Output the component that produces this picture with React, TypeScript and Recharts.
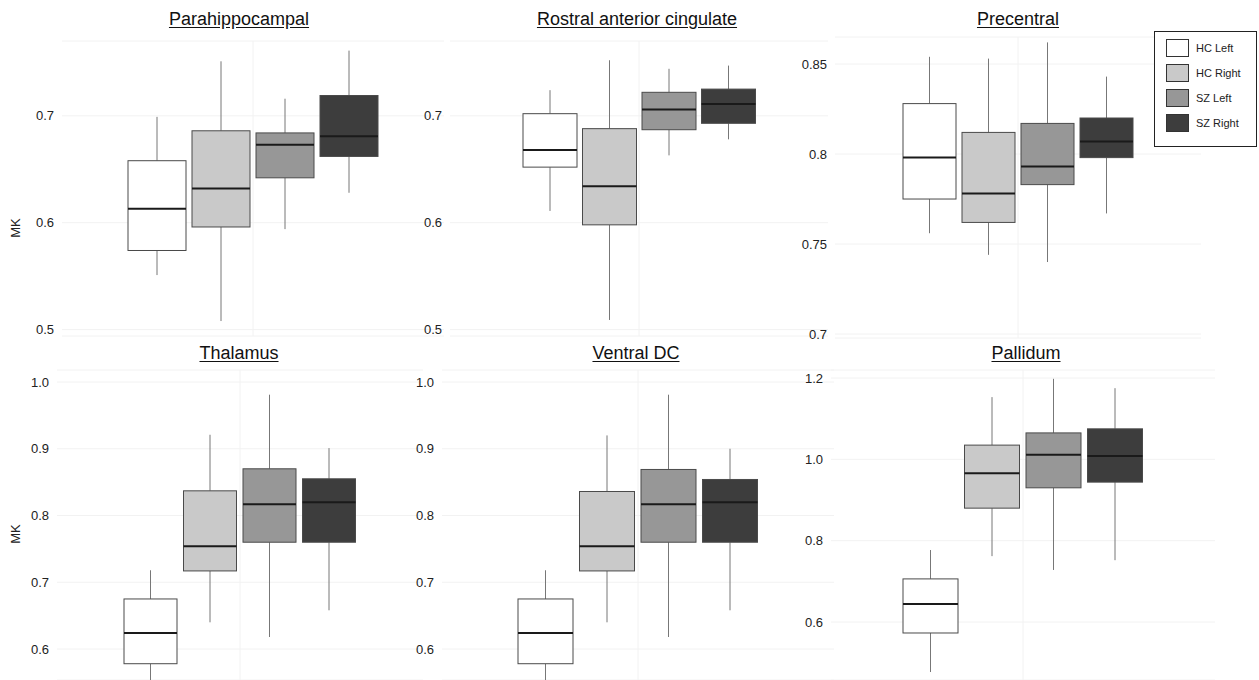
import { BarChart, Bar, XAxis, YAxis, CartesianGrid, ReferenceLine } from 'recharts';

const groups = ['HC Left', 'HC Right', 'SZ Left', 'SZ Right'];
const fills = ['#ffffff', '#c9c9c9', '#979797', '#3d3d3d'];

// per group: [lower whisker, Q1, median, Q3, upper whisker]
const parahippocampal = [
  [0.551, 0.574, 0.613, 0.658, 0.699],
  [0.508, 0.596, 0.632, 0.686, 0.751],
  [0.594, 0.642, 0.673, 0.684, 0.716],
  [0.628, 0.662, 0.681, 0.719, 0.761],
];
const rostralAnteriorCingulate = [
  [0.611, 0.652, 0.668, 0.702, 0.724],
  [0.509, 0.598, 0.634, 0.688, 0.752],
  [0.663, 0.687, 0.706, 0.722, 0.744],
  [0.678, 0.693, 0.711, 0.725, 0.747],
];
const precentral = [
  [0.756, 0.775, 0.798, 0.828, 0.854],
  [0.744, 0.762, 0.778, 0.812, 0.853],
  [0.74, 0.783, 0.793, 0.817, 0.862],
  [0.767, 0.798, 0.807, 0.82, 0.843],
];
const thalamus = [
  [0.54, 0.578, 0.624, 0.675, 0.718],
  [0.64, 0.717, 0.754, 0.837, 0.921],
  [0.618, 0.76, 0.817, 0.87, 0.981],
  [0.658, 0.76, 0.82, 0.855, 0.901],
];
const ventralDC = [
  [0.54, 0.578, 0.624, 0.675, 0.718],
  [0.64, 0.717, 0.754, 0.836, 0.92],
  [0.618, 0.76, 0.817, 0.869, 0.981],
  [0.658, 0.76, 0.82, 0.854, 0.9],
];
const pallidum = [
  [0.477, 0.573, 0.644, 0.706, 0.777],
  [0.762, 0.88, 0.966, 1.035, 1.153],
  [0.728, 0.93, 1.011, 1.065, 1.198],
  [0.752, 0.944, 1.008, 1.075, 1.175],
];

const ticksA = [0.5, 0.6, 0.7];
const ticksPrecentral = [0.7, 0.75, 0.8, 0.85];
const ticksB = [0.6, 0.7, 0.8, 0.9, 1.0];
const ticksPallidum = [0.6, 0.8, 1.0, 1.2];

const FONT = '"Liberation Sans", Arial, Helvetica, sans-serif';
const AXIS_W = 40;

const toRows = (stats: number[][]) =>
  stats.map((s, i) => ({
    group: groups[i],
    fill: fills[i],
    min: s[0],
    q1: s[1],
    median: s[2],
    q3: s[3],
    max: s[4],
  }));

function BoxShape(props: any) {
  const { x, y, width, height, payload } = props;
  const top = Math.min(y, y + height);
  const bottom = Math.max(y, y + height);
  // pixels per unit from the bar's own scaled q1..q3 extent
  const k = (bottom - top) / (payload.q3 - payload.q1);
  const py = (v: number) => bottom - (v - payload.q1) * k;
  const cx = x + width / 2;
  const med = py(payload.median);
  return (
    <g>
      <line x1={cx} x2={cx} y1={py(payload.max)} y2={top} stroke='#777' strokeWidth={1} />
      <line x1={cx} x2={cx} y1={bottom} y2={py(payload.min)} stroke='#777' strokeWidth={1} />
      <rect x={x} y={top} width={width} height={bottom - top} fill={payload.fill} stroke='#4a4a4a' strokeWidth={1} />
      <line x1={x} x2={x + width} y1={med} y2={med} stroke='#1a1a1a' strokeWidth={2} />
    </g>
  );
}

function Panel(p: any) {
  const data = toRows(p.stats);
  const chartW = AXIS_W + p.plotWidth;
  const mb = p.marginBottom || 0;
  return (
    <>
      <div
        style={{
          position: 'absolute',
          left: p.titleX - 150,
          top: p.titleTop,
          width: 300,
          textAlign: 'center',
          fontSize: 18,
          lineHeight: '20px',
          color: '#111',
          textDecoration: 'underline',
          textUnderlineOffset: 2,
        }}
      >
        {p.title}
      </div>
      <div style={{ position: 'absolute', left: p.plotLeft - AXIS_W, top: p.top }}>
        <BarChart
          width={chartW}
          height={p.height + mb}
          data={data}
          margin={{ top: p.marginTop, right: 0, bottom: mb, left: 0 }}
        >
          <CartesianGrid horizontal vertical={false} stroke='#f2f2f2' />
          <XAxis
            dataKey='group'
            type='category'
            hide
            padding={{ left: p.pad, right: p.pad }}
          />
          <YAxis
            type='number'
            width={AXIS_W}
            domain={p.domain}
            ticks={p.ticks}
            interval={0}
            allowDataOverflow
            axisLine={false}
            tickLine={false}
            tickFormatter={p.fmt}
            tick={{ fontSize: 13, fill: '#222', fontFamily: FONT }}
          />
          <ReferenceLine x='HC Right' position='end' stroke='#f2f2f2' />
          <Bar
            dataKey={(d: any) => [d.q1, d.q3]}
            barSize={p.barSize}
            isAnimationActive={false}
            shape={BoxShape}
          />
        </BarChart>
      </div>
      {p.mkY != null && (
        <div
          style={{
            position: 'absolute',
            left: 0,
            top: p.mkY - 10,
            width: 32,
            height: 20,
            lineHeight: '20px',
            textAlign: 'center',
            fontSize: 13,
            color: '#222',
            transform: 'rotate(-90deg)',
          }}
        >
          MK
        </div>
      )}
    </>
  );
}

const fmt1 = (v: number) => v.toFixed(1);
const fmtPlain = (v: number) => String(v);

export default function App() {
  return (
    <div
      style={{
        position: 'absolute',
        left: 0,
        top: 0,
        width: 1259,
        height: 680,
        overflow: 'hidden',
        background: '#fff',
        fontFamily: FONT,
      }}
    >
      <Panel title='Parahippocampal' stats={parahippocampal} ticks={ticksA} fmt={fmt1}
        domain={[0.494, 0.77]} plotLeft={62} plotWidth={382} pad={63} barSize={58}
        top={0} marginTop={41} height={336} marginBottom={8} titleX={239} titleTop={9} mkY={228} />
      <Panel title='Rostral anterior cingulate' stats={rostralAnteriorCingulate} ticks={ticksA} fmt={fmt1}
        domain={[0.494, 0.77]} plotLeft={450} plotWidth={378} pad={70} barSize={54}
        top={0} marginTop={41} height={336} marginBottom={8} titleX={637} titleTop={9} />
      <Panel title='Precentral' stats={precentral} ticks={ticksPrecentral} fmt={fmtPlain}
        domain={[0.6978, 0.865]} plotLeft={835} plotWidth={366} pad={65} barSize={53}
        top={0} marginTop={37} height={338} marginBottom={8} titleX={1018} titleTop={9} />
      <Panel title='Thalamus' stats={thalamus} ticks={ticksB} fmt={fmt1}
        domain={[0.5536, 1.018]} plotLeft={57} plotWidth={366} pad={64} barSize={53}
        top={340} marginTop={30} height={340} titleX={239} titleTop={343} mkY={534} />
      <Panel title='Ventral DC' stats={ventralDC} ticks={ticksB} fmt={fmt1}
        domain={[0.5536, 1.018]} plotLeft={442} plotWidth={392} pad={73} barSize={55}
        top={340} marginTop={30} height={340} titleX={636} titleTop={343} />
      <Panel title='Pallidum' stats={pallidum} ticks={ticksPallidum} fmt={fmt1}
        domain={[0.4574, 1.2197]} plotLeft={831} plotWidth={384} pad={69} barSize={55}
        top={340} marginTop={30} height={340} titleX={1026} titleTop={343} />

      {/* Legend */}
      <div
        style={{
          position: 'absolute',
          left: 1154,
          top: 31,
          width: 103,
          height: 116,
          boxSizing: 'border-box',
          border: '1px solid #222',
          background: '#fff',
          padding: '7px 0 0 11px',
        }}
      >
        {groups.map((g, i) => (
          <div key={g} style={{ display: 'flex', alignItems: 'center', height: 18, marginBottom: 7 }}>
            <span
              style={{
                display: 'inline-block',
                width: 23,
                height: 18,
                boxSizing: 'border-box',
                border: '1px solid #333',
                background: fills[i],
              }}
            ></span>
            <span style={{ marginLeft: 7, fontSize: 11, color: '#222' }}>{g}</span>
          </div>
        ))}
      </div>
    </div>
  );
}
